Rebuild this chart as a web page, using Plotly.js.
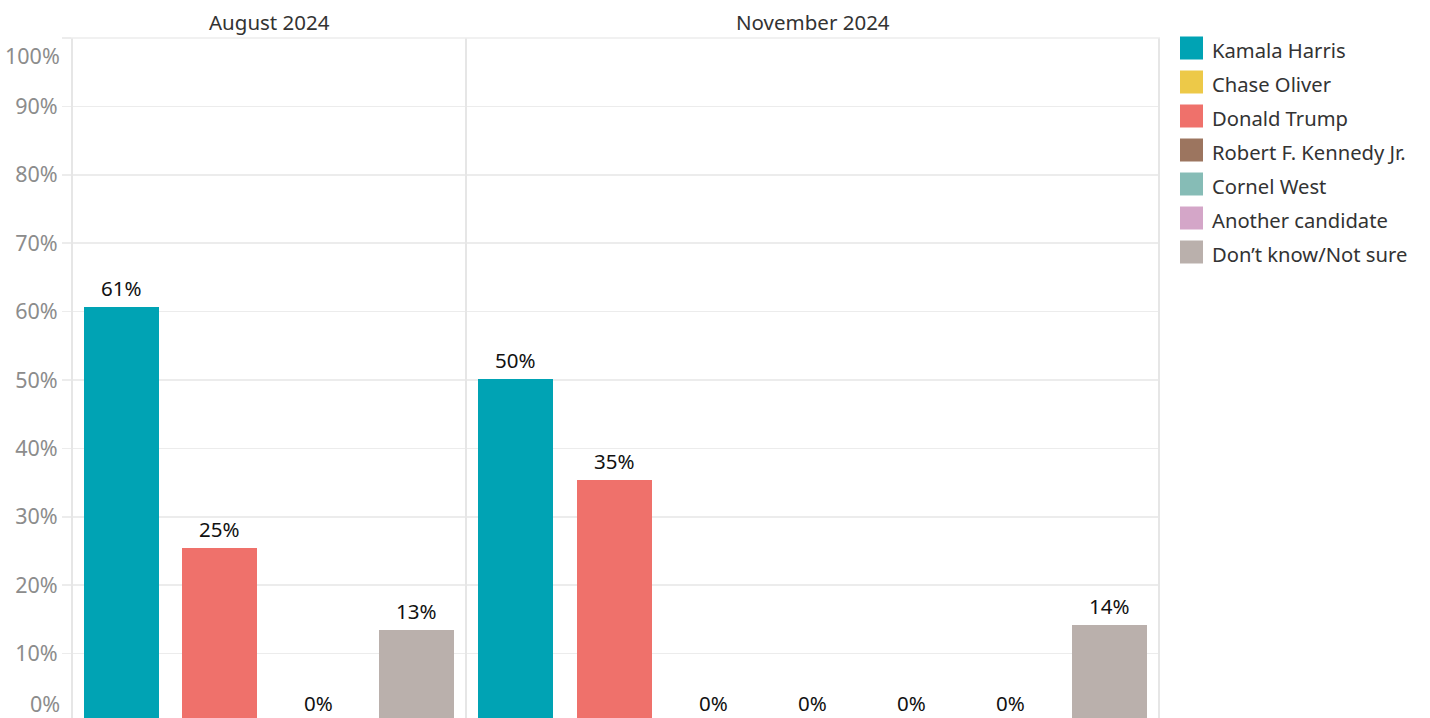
<!DOCTYPE html>
<html><head><meta charset="utf-8">
<script src="https://cdn.plot.ly/plotly-3.0.1.min.js"></script>
<style>html,body{margin:0;padding:0;background:#fff;overflow:hidden}#chart{width:1430px;height:722px}</style>
</head><body><div id="chart"></div>
<script>
const candidates = ["Kamala Harris","Chase Oliver","Donald Trump","Robert F. Kennedy Jr.","Cornel West","Another candidate","Don’t know/Not sure"];
const candidateColors = ["#00A3B4","#EDC948","#EF716B","#9C755F","#86BCB6","#D4A6C8","#BAB0AC"];
const panelTitles = ["August 2024","November 2024"];
const augustCategories = ["Kamala Harris","Donald Trump","Robert F. Kennedy Jr.","Don’t know/Not sure"];
const augustValues = [0.607,0.254,0,0.134];
const novemberCategories = ["Kamala Harris","Donald Trump","Chase Oliver","Robert F. Kennedy Jr.","Cornel West","Another candidate","Don’t know/Not sure"];
const novemberValues = [0.502,0.354,0,0,0,0,0.142];
const yTickValues = [0,0.1,0.2,0.3,0.4,0.5,0.6,0.7,0.8,0.9,1];

const FONT = '"Noto Sans", sans-serif';
const pct = v => Math.round(v*100) + '%';
const colorOf = c => candidateColors[candidates.indexOf(c)];

const panels = [
  {cats: augustCategories, vals: augustValues, xa: 'x', title: panelTitles[0]},
  {cats: novemberCategories, vals: novemberValues, xa: 'x2', title: panelTitles[1]}
];

const traces = panels.map(p => ({
  type: 'bar', x: p.cats, y: p.vals, xaxis: p.xa, yaxis: 'y',
  marker: {color: p.cats.map(colorOf)}, width: 0.76,
  showlegend: false, hoverinfo: 'x+y'
}));

const annotations = [];
panels.forEach(p => {
  p.cats.forEach((c, i) => {
    annotations.push({xref: p.xa, yref: 'y', x: c, y: p.vals[i], text: pct(p.vals[i]),
      showarrow: false, yanchor: 'middle', yshift: 19,
      font: {family: FONT, size: 20.5, color: '#111'}});
  });
  annotations.push({xref: p.xa + ' domain', yref: 'paper', x: 0.5, y: 1, yshift: 16,
    yanchor: 'middle', showarrow: false, text: p.title,
    font: {family: FONT, size: 20.5, color: '#333'}});
});
// end tick labels (0% and 100%), nudged inside like the reference
annotations.push({xref: 'paper', yref: 'y', x: 0, y: yTickValues[0], xanchor: 'right', xshift: -10, yshift: 19,
  yanchor: 'middle', showarrow: false, text: pct(yTickValues[0]), font: {family: FONT, size: 21.5, color: '#8c8c8c'}});
annotations.push({xref: 'paper', yref: 'y', x: 0, y: yTickValues[yTickValues.length-1], xanchor: 'right', xshift: -10, yshift: -17,
  yanchor: 'middle', showarrow: false, text: pct(yTickValues[yTickValues.length-1]), font: {family: FONT, size: 21.5, color: '#8c8c8c'}});

const shapes = [];
const split = 394/1087;
[0, split, 1].forEach(x => shapes.push({type: 'line', xref: 'paper', yref: 'paper', x0: x, x1: x, y0: 0, y1: 1,
  line: {color: '#e6e6e6', width: 2}, layer: 'above'}));
shapes.push({type: 'line', xref: 'paper', yref: 'paper', x0: -9/1087, x1: 1 + 1/1087, y0: 1, y1: 1,
  line: {color: '#ececec', width: 1.5}});

// legend
candidates.forEach((c, i) => {
  const cy = -(10 + 34*i);
  shapes.push({type: 'rect', xref: 'paper', yref: 'paper', xsizemode: 'pixel', ysizemode: 'pixel',
    xanchor: 1, yanchor: 1, x0: 21, x1: 44, y0: cy - 11.5, y1: cy + 11.5,
    fillcolor: candidateColors[i], line: {width: 0}});
  annotations.push({xref: 'paper', yref: 'paper', x: 1, y: 1, xshift: 51, yshift: cy - 1.5,
    xanchor: 'left', yanchor: 'middle', showarrow: false, text: c,
    font: {family: FONT, size: 20.2, color: '#333'}});
});

const layout = {
  width: 1430, height: 722,
  margin: {l: 72, r: 271, t: 38, b: 0},
  paper_bgcolor: '#fff', plot_bgcolor: '#fff',
  barmode: 'overlay', bargap: 0,
  showlegend: false,
  xaxis: {domain: [0, split], type: 'category', categoryorder: 'array', categoryarray: augustCategories,
    range: [-0.5, augustCategories.length - 0.5], showticklabels: false, showgrid: false, zeroline: false, fixedrange: true},
  xaxis2: {domain: [split, 1], anchor: 'y', type: 'category', categoryorder: 'array', categoryarray: novemberCategories,
    range: [-0.5, novemberCategories.length - 0.5], showticklabels: false, showgrid: false, zeroline: false, fixedrange: true},
  yaxis: {range: [0, 1], tickvals: yTickValues,
    ticktext: yTickValues.map((v, i) => (i === 0 || i === yTickValues.length-1) ? '' : pct(v)),
    ticks: 'outside', ticklen: 9, tickcolor: '#ececec', tickwidth: 1.5,
    gridcolor: '#ececec', gridwidth: 1.5, zeroline: false, showline: false,
    tickfont: {family: FONT, size: 21.5, color: '#8c8c8c'}},
  annotations: annotations,
  shapes: shapes
};

Plotly.newPlot('chart', traces, layout, {displayModeBar: false, staticPlot: true});
</script>
</body></html>
